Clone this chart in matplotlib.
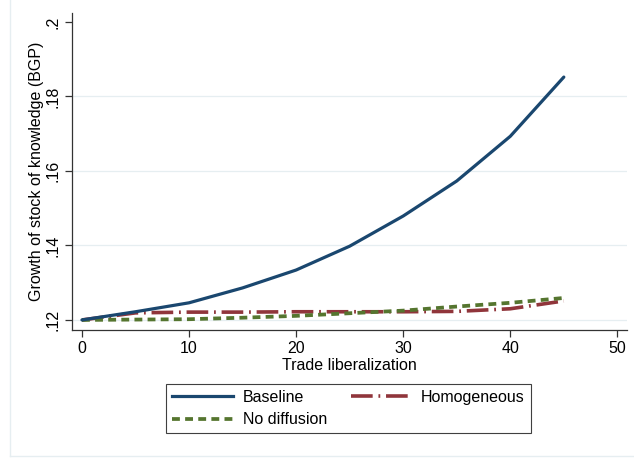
import matplotlib

matplotlib.use("Agg")
import matplotlib.pyplot as plt
from matplotlib.lines import Line2D

# data
trade_lib = [0, 5, 10, 15, 20, 25, 30, 35, 40, 45]
baseline = [0.1200, 0.1222, 0.1246, 0.1286, 0.1334, 0.1398, 0.1479, 0.1573, 0.1693, 0.1852]
homogeneous = [0.1200, 0.1219, 0.1221, 0.1221, 0.1222, 0.1222, 0.1222, 0.1223, 0.1230, 0.1251]
no_diffusion = [0.1200, 0.1201, 0.1202, 0.1206, 0.1211, 0.1218, 0.1225, 0.1236, 0.1246, 0.1259]

x_ticks = [0, 10, 20, 30, 40, 50]
y_ticks = [0.12, 0.14, 0.16, 0.18, 0.20]
y_tick_labels = [".12", ".14", ".16", ".18", ".2"]
grid_ticks = [0.12, 0.14, 0.16, 0.18]

NAVY = "#1a476f"
MAROON = "#90353b"
GREEN = "#55752f"
GRID = "#e6eef1"

plt.rcParams.update(
    {
        "font.family": ["Liberation Sans", "DejaVu Sans"],
        "font.size": 11.5,
    }
)

fig = plt.figure(figsize=(6.34, 4.59), dpi=100)
W, H = 634, 459
ax = fig.add_axes([72 / W, (H - 330) / H, (627 - 72) / W, (330 - 13) / H])

ax.hlines(grid_ticks, -0.93, 50.9, color=GRID, lw=0.9, zorder=0)

ax.plot(trade_lib, baseline, color=NAVY, lw=2.3, solid_capstyle="round", label="Baseline", zorder=3)
ax.plot(trade_lib, homogeneous, color=MAROON, lw=2.6, linestyle=(0, (6, 1.6, 0.5, 1.6)),
        label="Homogeneous", zorder=2)
ax.plot(trade_lib, no_diffusion, color=GREEN, lw=2.7, linestyle=(0, (2.1, 1.4)),
        label="No diffusion", zorder=2)

ax.set_xlim(-0.93, 50.9)
ax.set_ylim(0.1173, 0.2024)
ax.set_xticks(x_ticks)
ax.set_yticks(y_ticks)
ax.set_yticklabels(y_tick_labels, rotation=90, va="center")
ax.tick_params(axis="both", length=5, width=0.9, color="#333333", labelsize=11.5, pad=3)
ax.spines["top"].set_visible(False)
ax.spines["right"].set_visible(False)
for side in ("left", "bottom"):
    ax.spines[side].set_color("#333333")
    ax.spines[side].set_linewidth(0.9)

ax.set_xlabel("Trade liberalization", labelpad=1)
ax.set_ylabel("Growth of stock of knowledge (BGP)", labelpad=1)

handles = [
    Line2D([0], [0], color=NAVY, lw=2.3, label="Baseline"),
    Line2D([0], [0], color=GREEN, lw=2.7, linestyle=(0, (2.1, 1.4)), label="No diffusion"),
    Line2D([0], [0], color=MAROON, lw=2.6, linestyle=(0, (6, 1.6, 0.5, 1.6)), label="Homogeneous"),
]
leg = fig.legend(
    handles=handles,
    ncol=2,
    loc="center",
    bbox_to_anchor=((163 + 534) / 2 / W, 1 - (382 + 435) / 2 / H),
    fancybox=False,
    edgecolor="#404040",
    framealpha=1,
    handlelength=3.8,
    handletextpad=0.6,
    columnspacing=1.5,
    labelspacing=0.45,
    borderpad=0.4,
    fontsize=11.5,
)
leg.get_frame().set_linewidth(0.8)

# faint outer graph-region frame
fig.add_artist(Line2D([10 / W, 10 / W], [1 - 456 / H, 1.0], color=GRID, lw=1.0))
fig.add_artist(Line2D([10 / W, 1.0], [1 - 456 / H, 1 - 456 / H], color=GRID, lw=1.0))

fig.savefig("out.png", dpi=100)
